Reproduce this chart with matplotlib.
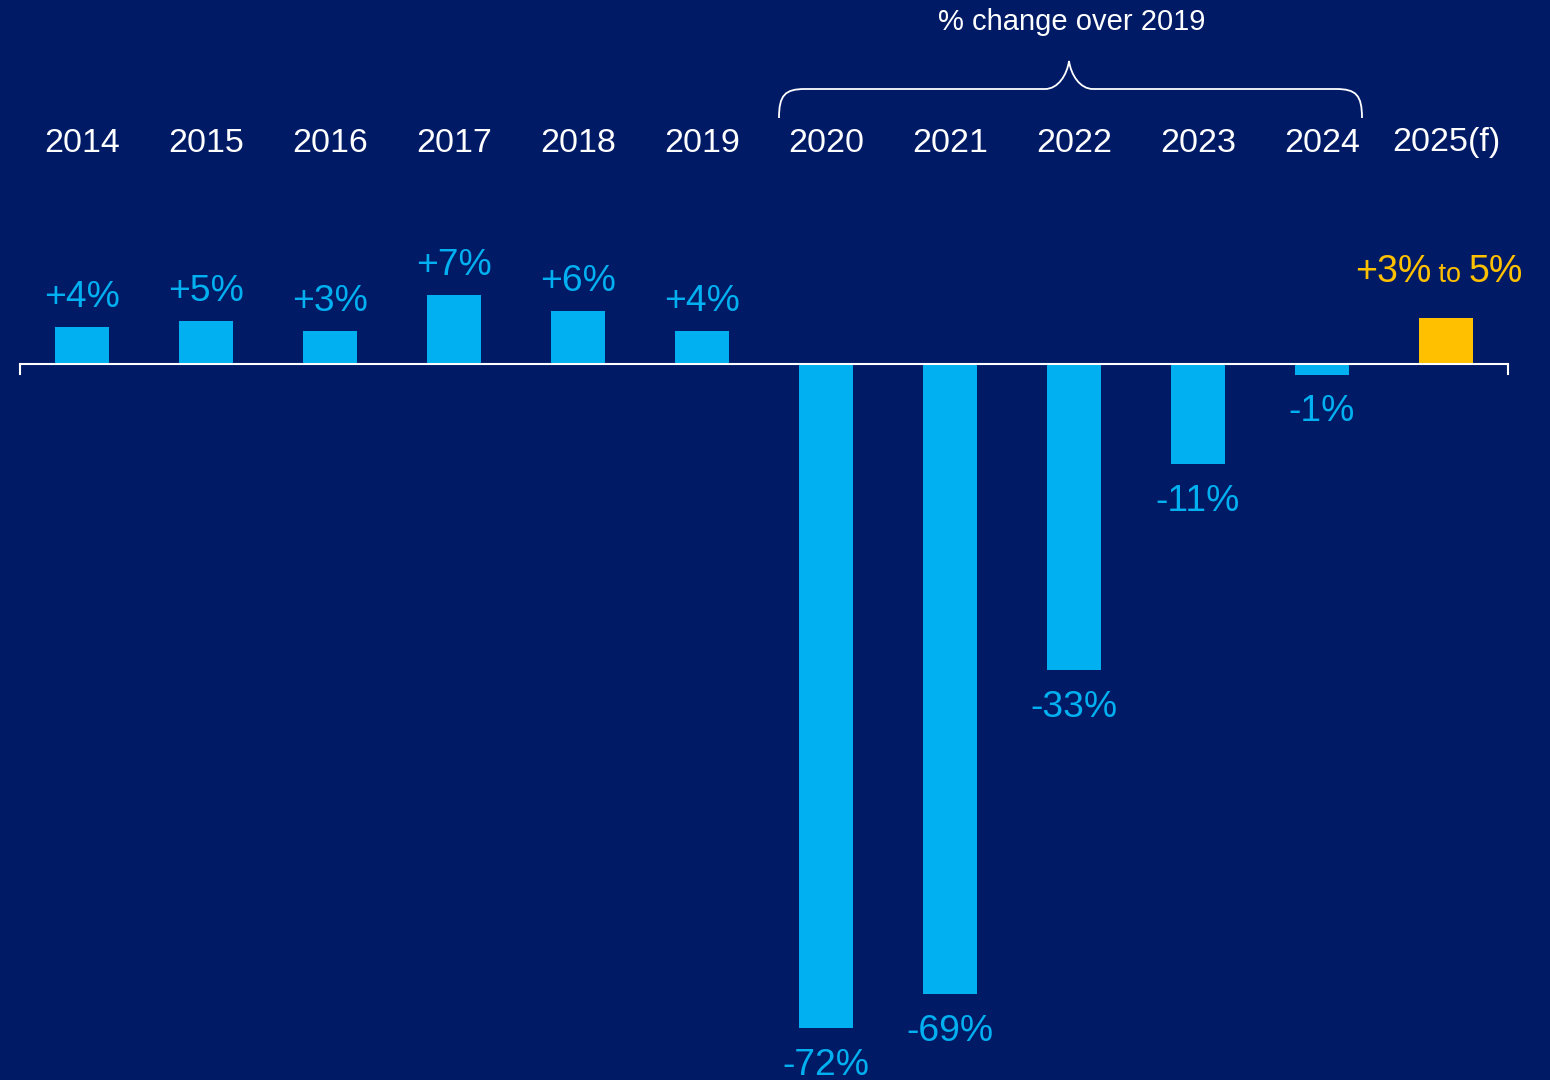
import matplotlib
matplotlib.use("Agg")
import matplotlib.pyplot as plt
from matplotlib.path import Path
from matplotlib.patches import PathPatch
from matplotlib.offsetbox import TextArea, HPacker, AnnotationBbox
import matplotlib.transforms as mtransforms

plt.rcParams['font.family'] = ['Liberation Sans', 'DejaVu Sans']

years = ["2014", "2015", "2016", "2017", "2018", "2019",
         "2020", "2021", "2022", "2023", "2024", "2025(f)"]
values = [4.0, 4.7, 3.6, 7.5, 5.8, 3.6, -72.2, -68.5, -33.3, -10.9, -1.2, 5.0]
labels = ["+4%", "+5%", "+3%", "+7%", "+6%", "+4%",
          "-72%", "-69%", "-33%", "-11%", "-1%", None]
forecast_parts = ["+3%", " to ", "5%"]
title = "% change over 2019"

BG = "#001A66"
CYAN = "#00B0F0"
GOLD = "#FFC000"
W, H = 1550, 1080
PX0, STEP, Y0, PXPER = 82, 124, 364, 9.2

fig = plt.figure(figsize=(W / 100, H / 100), dpi=100, facecolor=BG)
ax = fig.add_axes([0, 0, 1, 1])
ax.set_facecolor(BG)
ax.set_xlim(-PX0 / STEP, (W - PX0) / STEP)
ax.set_ylim(-(H - Y0) / PXPER, Y0 / PXPER)
ax.axis("off")

x = list(range(len(years)))
colors = [CYAN] * (len(years) - 1) + [GOLD]
ax.bar(x, values, width=0.43, color=colors, zorder=2)

# baseline axis with end ticks
ax.plot([-0.5, 11.5], [0, 0], color="white", lw=1.5, zorder=3)
ax.plot([-0.5, -0.5], [0, -1.1], color="white", lw=1.5, zorder=3)
ax.plot([11.5, 11.5], [0, -1.1], color="white", lw=1.5, zorder=3)

# value labels
for xi, v, lab in zip(x, values, labels):
    if lab is None:
        continue
    if v >= 0:
        ax.annotate(lab, (xi, v), xytext=(0, 14.5), textcoords="offset points",
                    ha="center", va="baseline", color=CYAN, fontsize=26.8)
    else:
        ax.annotate(lab, (xi, v), xytext=(0, -14), textcoords="offset points",
                    ha="center", va="top", color=CYAN, fontsize=26.8)

# forecast label
parts = [TextArea(forecast_parts[0], textprops=dict(color=GOLD, fontsize=27)),
         TextArea(forecast_parts[1], textprops=dict(color=GOLD, fontsize=19.5)),
         TextArea(forecast_parts[2], textprops=dict(color=GOLD, fontsize=27))]
pack = HPacker(children=parts, align="baseline", pad=0, sep=0)
ab = AnnotationBbox(pack, (x[-1], values[-1]), xybox=(-5, 20),
                    xycoords="data", boxcoords="offset points",
                    box_alignment=(0.5, 0.0), frameon=False)
ax.add_artist(ab)

# year labels
trans = mtransforms.blended_transform_factory(ax.transData, ax.transAxes)
for xi, yr in zip(x, years):
    ax.text(xi, 1 - 143 / H, yr, transform=trans, ha="center", va="center",
            color="white", fontsize=24.5)

# brace over 2020-2024
def px(p):
    return ((p[0] - PX0) / STEP, 1 - p[1] / H)

pts = [(779, 118), (779, 95), (785, 89), (805, 89),
       (1045, 89), (1058, 89), (1067, 75), (1069, 61),
       (1071, 75), (1080, 89), (1093, 89),
       (1336, 89), (1356, 89), (1362, 95), (1362, 118)]
codes = [Path.MOVETO, Path.CURVE4, Path.CURVE4, Path.CURVE4,
         Path.LINETO, Path.CURVE4, Path.CURVE4, Path.CURVE4,
         Path.CURVE4, Path.CURVE4, Path.CURVE4,
         Path.LINETO, Path.CURVE4, Path.CURVE4, Path.CURVE4]
brace = Path([px(p) for p in pts], codes)
ax.add_patch(PathPatch(brace, transform=trans, fill=False, edgecolor="white", lw=1.3))

ax.text((1072 - PX0) / STEP, 1 - 22 / H, title, transform=trans, ha="center",
        va="center", color="white", fontsize=21)

fig.savefig("out.png", dpi=100, facecolor=BG)
